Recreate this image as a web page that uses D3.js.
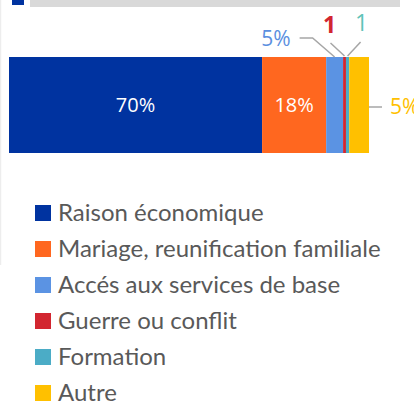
<!DOCTYPE html>
<html>
<head>
<meta charset="utf-8">
<script src="https://cdn.jsdelivr.net/npm/d3@7"></script>
<style>
  body { margin: 0; background: #fff; }
  svg { display: block; }
</style>
</head>
<body>
<svg id="chart"></svg>
<script>
// categories, values (share in %) and shown labels
const categories = ['Raison économique', 'Mariage, reunification familiale', 'Accés aux services de base',
  'Guerre ou conflit', 'Formation', 'Autre'];
const values = [70.3, 17.8, 4.7, 0.8, 0.9, 5.5];
const labels = ['70%', '18%', '5%', '1', '1', '5%'];
const colors = ['#0033a0', '#ff671f', '#5b93e3', '#d22630', '#4bacc6', '#ffc000'];
const labelColors = ['#fff', '#fff', '#5b8fe0', '#d22630', '#5fc3b8', '#ffc000'];

const width = 414, height = 403;
const svg = d3.select('#chart').attr('width', width).attr('height', height);

// header strip
svg.append('rect').attr('x', 12).attr('y', 0).attr('width', 12).attr('height', 5).attr('fill', '#0033a0');
svg.append('rect').attr('x', 30).attr('y', 0).attr('width', 370).attr('height', 7).attr('fill', '#d9d9d9');
svg.append('line').attr('x1', 0.5).attr('x2', 0.5).attr('y1', 0).attr('y2', 265)
  .attr('stroke', '#ededed').attr('stroke-width', 1.5);

const data = categories.map((c, i) => ({cat: c, value: values[i], label: labels[i], color: colors[i], lc: labelColors[i]}));
let acc = 0;
data.forEach(d => { d.x0 = acc; acc += d.value; d.x1 = acc; });

const x = d3.scaleLinear().domain([0, 100]).range([9, 369]);
const y = d3.scaleBand().domain(['all']).range([57, 153]);

svg.selectAll('.seg')
  .data(data)
  .enter()
  .append('rect')
  .attr('class', 'seg')
  .attr('x', d => x(d.x0))
  .attr('y', y('all'))
  .attr('width', d => x(d.x1) - x(d.x0))
  .attr('height', y.bandwidth())
  .attr('fill', d => d.color);

const mid = d => (x(d.x0) + x(d.x1)) / 2;
const yTop = y('all');
const yMid = y('all') + y.bandwidth() / 2;

// inside labels
svg.selectAll('.inlabel')
  .data(data.slice(0, 2))
  .enter()
  .append('text')
  .attr('x', mid)
  .attr('y', yMid + 7)
  .attr('text-anchor', 'middle')
  .attr('font-family', 'Open Sans, sans-serif')
  .attr('font-size', 20)
  .attr('fill', d => d.lc)
  .text(d => d.label);

const leader = '#a6a6a6';

// Accés aux services
const s = data[2];
svg.append('polyline')
  .attr('points', `${mid(s)},${yTop} ${mid(s) - 22},${yTop - 19} ${mid(s) - 35},${yTop - 19}`)
  .attr('fill', 'none').attr('stroke', leader).attr('stroke-width', 1.5);
svg.append('text').attr('x', mid(s) - 44).attr('y', yTop - 11).attr('text-anchor', 'end')
  .attr('font-family', 'Open Sans, sans-serif').attr('font-size', 21).attr('fill', s.lc).text(s.label);

// Guerre
const g = data[3];
svg.append('line')
  .attr('x1', mid(g)).attr('y1', yTop - 1).attr('x2', mid(g) - 14).attr('y2', yTop - 14)
  .attr('stroke', leader).attr('stroke-width', 1.5);
svg.append('text').attr('x', mid(g) - 15).attr('y', yTop - 24).attr('text-anchor', 'middle')
  .attr('font-family', 'Open Sans, sans-serif').attr('font-weight', 'bold').attr('font-size', 23)
  .attr('fill', g.lc).text(g.label);

// Formation
const f = data[4];
svg.append('line')
  .attr('x1', mid(f)).attr('y1', yTop - 1).attr('x2', mid(f) + 13).attr('y2', yTop - 15)
  .attr('stroke', leader).attr('stroke-width', 1.5);
svg.append('text').attr('x', mid(f) + 14).attr('y', yTop - 26).attr('text-anchor', 'middle')
  .attr('font-family', 'Open Sans, sans-serif').attr('font-size', 23)
  .attr('fill', f.lc).text(f.label);

// Autre
const a = data[5];
svg.append('line')
  .attr('x1', x(a.x1)).attr('y1', yMid + 2).attr('x2', x(a.x1) + 13).attr('y2', yMid + 2)
  .attr('stroke', leader).attr('stroke-width', 1.5);
svg.append('text').attr('x', x(a.x1) + 21).attr('y', yMid + 9)
  .attr('font-family', 'Open Sans, sans-serif').attr('font-size', 21)
  .attr('fill', a.lc).text(a.label);

// legend
const ly = d3.scalePoint().domain(categories).range([213, 393]);
const legend = svg.selectAll('.legend')
  .data(data)
  .enter()
  .append('g')
  .attr('class', 'legend')
  .attr('transform', d => `translate(35,${ly(d.cat)})`);
legend.append('rect').attr('x', 0).attr('y', -8).attr('width', 16).attr('height', 16).attr('fill', d => d.color);
legend.append('text').attr('x', 23).attr('y', 8)
  .attr('font-family', 'Lato, sans-serif').attr('font-size', 24).attr('fill', '#595959')
  .text(d => d.cat);
</script>
</body>
</html>
